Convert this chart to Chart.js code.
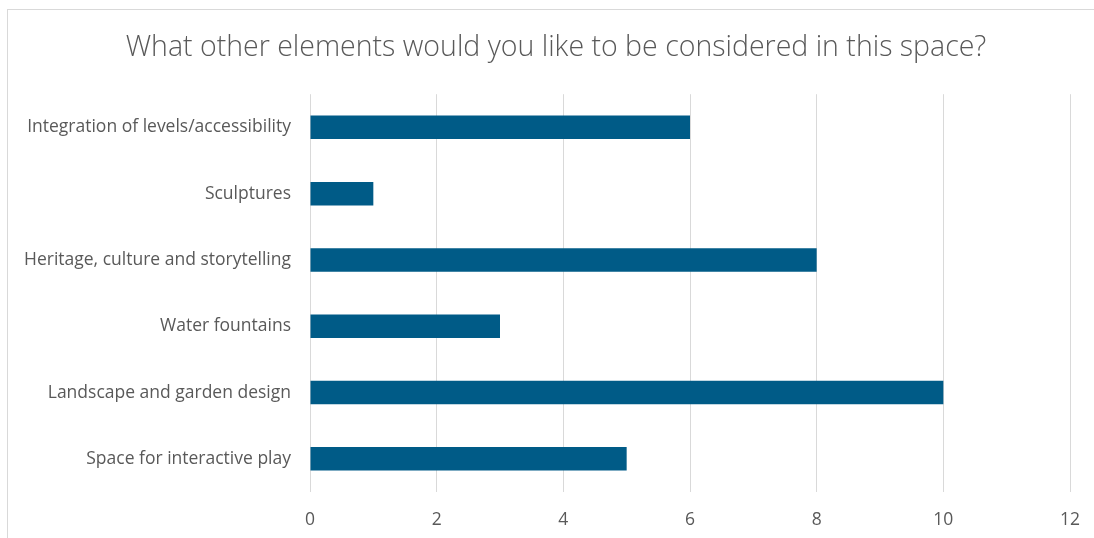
<!DOCTYPE html>
<html>
<head>
<meta charset="utf-8">
<script src="https://cdn.jsdelivr.net/npm/chart.js@4"></script>
<style>
  html, body { margin: 0; padding: 0; background: #fff; overflow: hidden; }
  #frame { position: absolute; left: 7px; top: 9px; width: 1200px; height: 600px; border: 1px solid #d9d9d9; }
  #wrap { position: absolute; left: 0; top: 0; width: 1094px; height: 538px; }
</style>
</head>
<body>
<div id="frame"></div>
<div id="wrap"><canvas id="chart" width="1094" height="538"></canvas></div>
<script>
// Datos
const categories = [
    'Integration of levels/accessibility',
    'Sculptures',
    'Heritage, culture and storytelling',
    'Water fountains',
    'Landscape and garden design',
    'Space for interactive play'
];
const responses = [6, 1, 8, 3, 10, 5];
const xTicks = [0, 2, 4, 6, 8, 10, 12];

const textColor = '#595959';
const fontFamily = '"Open Sans", Lato, sans-serif';

new Chart(document.getElementById('chart').getContext('2d'), {
    type: 'bar',
    data: {
        labels: categories,
        datasets: [{
            data: responses,
            backgroundColor: '#005b87',
            barPercentage: 0.71,
            categoryPercentage: 0.5
        }]
    },
    options: {
        indexAxis: 'y',
        responsive: false,
        animation: false,
        // padding izquierda mayor para desplazar el título como en el original
        layout: { padding: { left: 24, right: 6, top: 0, bottom: 0 } },
        plugins: {
            legend: { display: false },
            tooltip: { enabled: false },
            title: {
                display: true,
                text: 'What other elements would you like to be considered in this space?',
                color: textColor,
                font: { family: fontFamily, size: 28.5, weight: 300 },
                padding: { top: 31, bottom: 29 }
            }
        },
        scales: {
            x: {
                min: 0,
                max: 12,
                afterBuildTicks: axis => { axis.ticks = xTicks.map(v => ({ value: v })); },
                afterFit: axis => { axis.height = 46; axis.paddingRight = 24; },
                grid: { color: '#d9d9d9', drawTicks: false },
                border: { display: false },
                ticks: { color: textColor, font: { family: fontFamily, size: 17.5 }, padding: 18 }
            },
            y: {
                afterFit: axis => { axis.width = 286; },
                grid: { display: false, drawTicks: false },
                border: { display: false },
                ticks: { color: textColor, font: { family: fontFamily, size: 17.5 }, padding: 19 }
            }
        }
    }
});
</script>
</body>
</html>
